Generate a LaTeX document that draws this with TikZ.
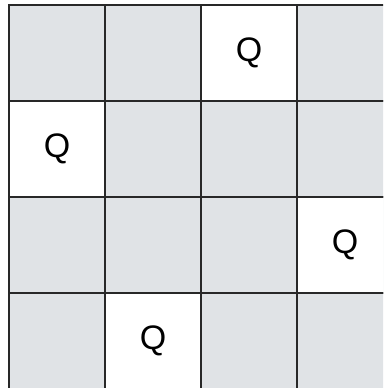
\documentclass[tikz,border=0pt]{standalone}
\usepackage{fontspec}
\setmainfont{Liberation Sans}
\definecolor{cellgray}{RGB}{224,227,230}
\definecolor{gridline}{RGB}{40,40,40}
\tikzset{
  cell/.style={rectangle, draw=gridline, line width=2.2pt, fill=cellgray, minimum size=96pt, inner sep=0pt},
  queen/.style={cell, fill=white, font=\fontsize{34}{34}\selectfont}
}
\begin{document}
\begin{tikzpicture}[x=1pt, y=-1pt]
\useasboundingbox (0,0) rectangle (383,388);
\clip (0,0) rectangle (383,388);
% board
\foreach \r in {1,...,4}
  \foreach \c in {1,...,4}
    \node[cell] (c\r\c) at (96*\c-39, 96*\r-43) {};
% queens, one per row
\foreach \qc [count=\r] in {3,1,4,2}
  \node[queen] (q\r) at (c\r\qc) {Q};
\end{tikzpicture}
\end{document}
